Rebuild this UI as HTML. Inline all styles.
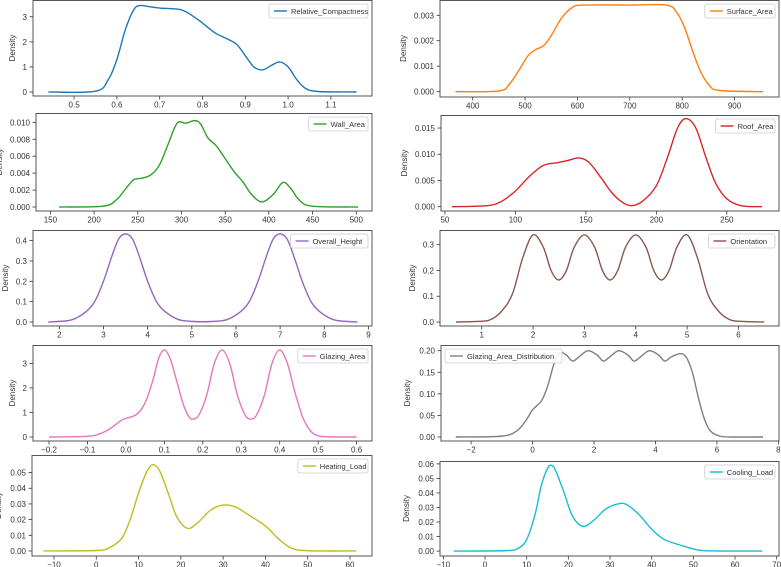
<!DOCTYPE html>
<html><head><meta charset="utf-8"><style>
body{margin:0;background:#fff;}
svg{display:block;font-family:"Liberation Sans",sans-serif;}
</style></head><body>
<svg id="fig" width="781" height="567" viewBox="0 0 781 567"></svg>
<script>
// ---- data ----
const rcX=[0.44,0.55,0.58,0.6,0.62,0.64,0.655,0.67,0.7,0.75,0.78,0.8,0.83,0.86,0.88,0.9,0.92,0.94,0.96,0.98,1.0,1.02,1.04,1.07,1.16];
const rcY=[0,0.03,0.5,1.3,2.5,3.3,3.45,3.42,3.35,3.28,3.0,2.75,2.35,2.1,1.9,1.45,1.0,0.88,1.05,1.2,1.0,0.5,0.15,0.02,0];
const saX=[367,450,470,490,505,520,535,550,570,590,610,700,770,790,805,820,835,850,870,955];
const saY=[0,0.00003,0.0003,0.0009,0.0014,0.00165,0.0018,0.0022,0.0029,0.0033,0.0034,0.0034,0.0034,0.0031,0.0025,0.0016,0.0008,0.0003,0.00005,0];
const waX=[160,210,225,235,245,255,265,275,285,295,305,315,322,330,340,350,360,370,380,392,405,416,425,435,450,502];
const waY=[0,0.0001,0.0008,0.002,0.0032,0.0034,0.0038,0.005,0.0075,0.0099,0.0099,0.0102,0.0098,0.0082,0.0072,0.0057,0.0042,0.003,0.0015,0.0006,0.0015,0.0029,0.0022,0.0008,0.0001,0];
const raX=[55,80,90,100,110,120,130,137,145,152,160,168,175,182,190,200,208,215,221,228,235,242,250,260,275];
const raY=[0,0.0002,0.001,0.003,0.0058,0.0079,0.0084,0.0088,0.0093,0.0085,0.0058,0.0028,0.001,0.0002,0.001,0.004,0.0095,0.015,0.0168,0.015,0.0095,0.0045,0.0015,0.0002,0];
const ohX=[1.75,2.0,2.3,2.6,2.8,3.0,3.2,3.35,3.5,3.65,3.8,4.0,4.2,4.4,4.7,5.0,5.25,5.5,5.8,6.1,6.3,6.5,6.7,6.85,7.0,7.15,7.3,7.5,7.7,7.9,8.2,8.5,8.75];
const ohY=[0,0.003,0.012,0.05,0.1,0.2,0.33,0.41,0.433,0.41,0.33,0.2,0.1,0.05,0.012,0.003,0.001,0.003,0.012,0.05,0.1,0.2,0.33,0.41,0.433,0.41,0.33,0.2,0.1,0.05,0.012,0.003,0];
const orX=[0.5,1,1.2,1.4,1.6,1.8,2,2.2,2.35,2.5,2.65,2.8,3,3.2,3.35,3.5,3.65,3.8,4,4.2,4.35,4.5,4.65,4.8,5,5.2,5.4,5.6,5.8,6,6.5];
const orY=[0,0.003,0.012,0.045,0.11,0.25,0.338,0.29,0.2,0.163,0.2,0.29,0.338,0.29,0.2,0.163,0.2,0.29,0.338,0.29,0.2,0.163,0.2,0.29,0.338,0.25,0.11,0.045,0.012,0.003,0];
const gaX=[-0.2,-0.1,-0.07,-0.04,-0.01,0.01,0.03,0.05,0.07,0.085,0.1,0.115,0.13,0.15,0.165,0.175,0.19,0.21,0.23,0.25,0.27,0.29,0.31,0.325,0.34,0.36,0.38,0.4,0.42,0.44,0.46,0.48,0.5,0.53,0.6];
const gaY=[0,0.03,0.12,0.35,0.7,0.8,0.95,1.4,2.3,3.2,3.55,3.2,2.4,1.3,0.8,0.73,0.9,1.7,3.0,3.55,3.0,1.7,0.9,0.73,0.9,1.7,3.0,3.55,3.0,1.8,0.8,0.25,0.05,0.005,0];
const gdX=[-2.5,-1,-0.5,-0.2,0,0.3,0.5,0.7,0.9,1.1,1.3,1.5,1.8,2.1,2.3,2.5,2.8,3.1,3.3,3.5,3.8,4.1,4.3,4.5,4.8,5.0,5.2,5.4,5.6,5.8,6.1,6.5,7.5];
const gdY=[0,0.002,0.015,0.04,0.063,0.085,0.12,0.17,0.195,0.19,0.176,0.185,0.2,0.19,0.176,0.185,0.2,0.19,0.176,0.185,0.2,0.19,0.176,0.185,0.193,0.185,0.15,0.09,0.04,0.013,0.002,0,0];
const hlX=[-12.5,0,3,6,8,10,12,13.5,15,17,19,21.5,24,27,30,33,36,40,43,46,50,61.5];
const hlY=[0,0.0003,0.002,0.008,0.02,0.037,0.051,0.055,0.051,0.037,0.022,0.0145,0.018,0.026,0.0293,0.028,0.023,0.016,0.008,0.002,0.0002,0];
const clX=[-7.5,5,8,10,12,13.5,15,16,17,19,21,23.5,26,29,32,34,37,40,43,47,51,55,66.5];
const clY=[0,0.0003,0.002,0.008,0.025,0.045,0.057,0.059,0.055,0.04,0.024,0.017,0.021,0.029,0.0325,0.032,0.025,0.015,0.008,0.004,0.0008,0.0001,0];

const rcXT=[0.5,0.6,0.7,0.8,0.9,1.0,1.1], rcYT=[0,1,2,3];
const saXT=[400,500,600,700,800,900], saYT=[0,0.001,0.002,0.003];
const waXT=[150,200,250,300,350,400,450,500], waYT=[0,0.002,0.004,0.006,0.008,0.010];
const raXT=[50,100,150,200,250], raYT=[0,0.005,0.010,0.015];
const ohXT=[2,3,4,5,6,7,8,9], ohYT=[0,0.1,0.2,0.3,0.4];
const orXT=[1,2,3,4,5,6], orYT=[0,0.1,0.2,0.3];
const gaXT=[-0.2,-0.1,0,0.1,0.2,0.3,0.4,0.5,0.6], gaYT=[0,1,2,3];
const gdXT=[-2,0,2,4,6,8], gdYT=[0,0.05,0.10,0.15,0.20];
const hlXT=[-10,0,10,20,30,40,50,60], hlYT=[0,0.01,0.02,0.03,0.04,0.05];
const clXT=[-10,0,10,20,30,40,50,60,70], clYT=[0,0.01,0.02,0.03,0.04,0.05,0.06];

const NS="http://www.w3.org/2000/svg";
const svg=document.getElementById('fig');
function mk(tag,attrs,parent){const e=document.createElementNS(NS,tag);for(const k in attrs)e.setAttribute(k,attrs[k]);(parent||svg).appendChild(e);return e;}

const panels=[
 {name:'relative-compactness',label:'Relative_Compactness',color:'#1f77b4',x:rcX,y:rcY,xt:rcXT,yt:rcYT,box:[33,0,372,96],xl:[0.404,1.196],yl:[-0.16,3.67],xd:1,yd:0,leg:'r'},
 {name:'surface-area',label:'Surface_Area',color:'#ff7f0e',x:saX,y:saY,xt:saXT,yt:saYT,box:[440,0,779,97],xl:[337.5,985],yl:[-0.00021,0.0036],xd:0,yd:3,leg:'r'},
 {name:'wall-area',label:'Wall_Area',color:'#2ca02c',x:waX,y:waY,xt:waXT,yt:waYT,box:[36,113,372,211],xl:[133.5,518],yl:[-0.00047,0.0111],xd:0,yd:3,leg:'r'},
 {name:'roof-area',label:'Roof_Area',color:'#d62728',x:raX,y:raY,xt:raXT,yt:raYT,box:[441,115,779,211],xl:[47.2,287],yl:[-0.00082,0.01748],xd:0,yd:3,leg:'r'},
 {name:'overall-height',label:'Overall_Height',color:'#9467bd',x:ohX,y:ohY,xt:ohXT,yt:ohYT,box:[33,230,372,326],xl:[1.404,9.08],yl:[-0.0197,0.452],xd:0,yd:1,leg:'r'},
 {name:'orientation',label:'Orientation',color:'#8c564b',x:orX,y:orY,xt:orXT,yt:orYT,box:[440,230,779,326],xl:[0.187,6.79],yl:[-0.0155,0.357],xd:0,yd:1,leg:'r'},
 {name:'glazing-area',label:'Glazing_Area',color:'#e377c2',x:gaX,y:gaY,xt:gaXT,yt:gaYT,box:[33,345,372,441],xl:[-0.2416,0.64],yl:[-0.163,3.75],xd:1,yd:0,leg:'r'},
 {name:'glazing-area-distribution',label:'Glazing_Area_Distribution',color:'#7f7f7f',x:gdX,y:gdY,xt:gdXT,yt:gdYT,box:[441,345,779,441],xl:[-2.98,8.02],yl:[-0.0093,0.2132],xd:0,yd:2,leg:'l'},
 {name:'heating-load',label:'Heating_Load',color:'#bcbd22',x:hlX,y:hlY,xt:hlXT,yt:hlYT,box:[32,455,372,556],xl:[-15.2,65.2],yl:[-0.0032,0.0612],xd:0,yd:2,leg:'r'},
 {name:'cooling-load',label:'Cooling_Load',color:'#17becf',x:clX,y:clY,xt:clXT,yt:clYT,box:[440,461,779,556],xl:[-10.8,70.55],yl:[-0.0034,0.062],xd:0,yd:2,leg:'r'}
];

function smoothPath(pts){
 let d='M'+pts[0][0].toFixed(2)+','+pts[0][1].toFixed(2);
 for(let i=0;i<pts.length-1;i++){
  const p0=pts[Math.max(0,i-1)],p1=pts[i],p2=pts[i+1],p3=pts[Math.min(pts.length-1,i+2)];
  let c1=[p1[0]+(p2[0]-p0[0])/6,p1[1]+(p2[1]-p0[1])/6];
  let c2=[p2[0]-(p3[0]-p1[0])/6,p2[1]-(p3[1]-p1[1])/6];
  d+=' C'+c1[0].toFixed(2)+','+c1[1].toFixed(2)+' '+c2[0].toFixed(2)+','+c2[1].toFixed(2)+' '+p2[0].toFixed(2)+','+p2[1].toFixed(2);
 }
 return d;
}
function fmt(v,d){let s=v.toFixed(d);return s.replace('-','\u2212');}

panels.forEach(p=>{
 const [L,T,R,B]=p.box;
 const sx=v=>L+(v-p.xl[0])/(p.xl[1]-p.xl[0])*(R-L);
 const sy=v=>B-(v-p.yl[0])/(p.yl[1]-p.yl[0])*(B-T);
 const g=mk('g',{});
 
 
 p.xt.forEach(t=>{
  const x=sx(t);
  const tk=mk('line',{x1:x,x2:x,y1:B,y2:B+3.5,stroke:'#333','stroke-width':0.8},g);
  
  
  const tx=mk('text',{x:x,y:B+11.5,'font-size':8,fill:'#333','text-anchor':'middle'},g);
  tx.textContent=fmt(t,p.xd);
  
  
 });
 p.yt.forEach(t=>{
  const y=sy(t);
  const tk=mk('line',{x1:L-3.5,x2:L,y1:y,y2:y,stroke:'#333','stroke-width':0.8},g);
  
  
  const tx=mk('text',{x:L-6,y:y+3,'font-size':8,fill:'#333','text-anchor':'end'},g);
  tx.textContent=fmt(t,p.yd);
  
  
 });
 const yTitleX = p.yd>=3 ? L-34 : (p.yd===2? L-31 : (p.yd===1? L-25 : L-18));
 const yt=mk('text',{x:yTitleX,y:(T+B)/2,'font-size':8,fill:'#333','text-anchor':'middle',transform:`rotate(-90 ${yTitleX} ${(T+B)/2})`},g);
 yt.textContent='Density';
 
 
 const pts=p.x.map((v,i)=>[sx(v),sy(p.y[i])]);
 const path=mk('path',{d:smoothPath(pts),fill:'none',stroke:p.color,'stroke-width':1.4},g);
 
 
 const fr=mk('rect',{x:L,y:T+0.5,width:R-L,height:B-T-0.5,fill:'none',stroke:'#444','stroke-width':0.9},g);
 
 
 const w=p.label.length*3.6+27;
 const lx=p.leg==='r'? R-4-w : L+4;
 const ly=T+4;
 const lg=mk('g',{},g);
 
 
 mk('rect',{x:lx,y:ly,width:w,height:14,rx:2,fill:'#fff','fill-opacity':0.85,stroke:'#ccc','stroke-width':0.8},lg);
 mk('line',{x1:lx+5,x2:lx+18,y1:ly+7,y2:ly+7,stroke:p.color,'stroke-width':1.4},lg);
 const lt=mk('text',{x:lx+22,y:ly+10,'font-size':7.5,fill:'#333'},lg);
 lt.textContent=p.label;
 
 
});
</script>
</body></html>
